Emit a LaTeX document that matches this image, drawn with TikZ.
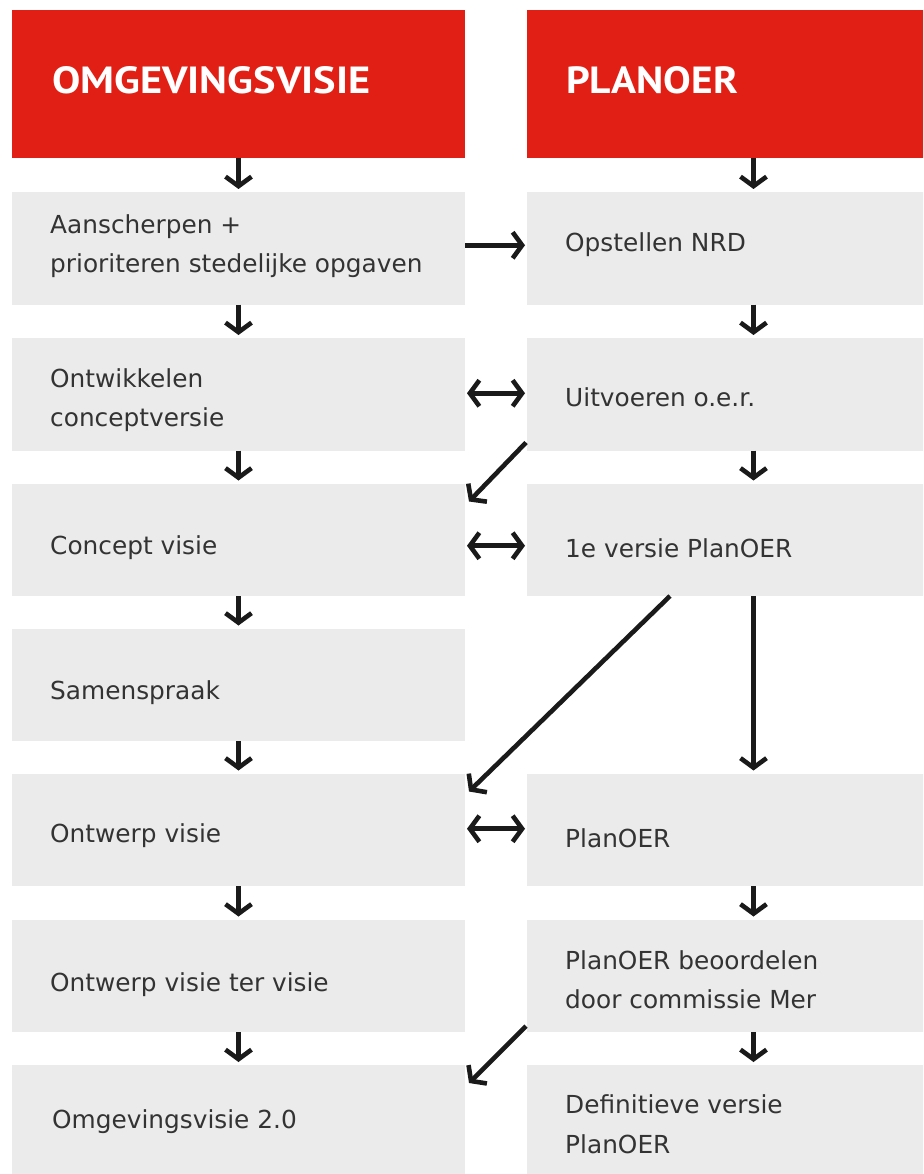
\documentclass[tikz,border=0pt]{standalone}
\usepackage{fontspec}
\setmainfont{DejaVu Sans}
\newfontfamily\headfont{PT Sans}
\usetikzlibrary{arrows.meta,calc}
\definecolor{hdred}{HTML}{E21F14}
\definecolor{boxgray}{HTML}{EBEBEB}
\definecolor{txtc}{HTML}{333333}
\definecolor{arrc}{HTML}{1A1A1A}
\begin{document}
\begin{tikzpicture}[x=1pt,y=-1pt,
  box/.style={fill=boxgray, draw=none, minimum width=453pt, minimum height=112.5pt, inner sep=0pt, outer sep=0pt, anchor=north west},
  hbox/.style={fill=hdred, draw=none, minimum width=453pt, minimum height=148pt, inner sep=0pt, outer sep=0pt, anchor=north west},
  lbl/.style={anchor=west, inner sep=0pt, align=left, text=txtc, font=\fontsize{24.8}{39.5}\selectfont},
  hlbl/.style={anchor=west, inner sep=0pt, text=white},
  arr/.style={draw=arrc, line width=4.6pt, -{Straight Barb[length=9.5pt,width=26pt]}, shorten >=3pt},
  darr/.style={draw=arrc, line width=4.6pt, {Straight Barb[length=9.5pt,width=26pt]}-{Straight Barb[length=9.5pt,width=26pt]}, shorten >=2pt, shorten <=2pt},
  harr/.style={draw=arrc, line width=4.6pt, -{Straight Barb[length=9.5pt,width=26pt]}, shorten >=2pt}
]
\useasboundingbox (0,0) rectangle (923,1174);
\clip (0,0) rectangle (923,1174);
\fill[white] (0,0) rectangle (923,1174);

% headers
\node[hbox] (hL) at (12,10) {};
\node[hbox] (hR) at (527,10) {};
\node[hlbl] (hLt) at (52,80) {\resizebox{318pt}{27pt}{\headfont\bfseries OMGEVINGSVISIE}};
\node[hlbl] (hRt) at (566,80) {\resizebox{172pt}{27pt}{\headfont\bfseries PLANOER}};

% left column
\node[box] (l1) at (12,192) {};
\node[box] (l2) at (12,338) {};
\node[box] (l3) at (12,483.5) {};
\node[box] (l4) at (12,628.5) {};
\node[box] (l5) at (12,773.5) {};
\node[box] (l6) at (12,919.5) {};
\node[box] (l7) at (12,1065) {};
% right column
\node[box] (r1) at (527,192) {};
\node[box] (r2) at (527,338) {};
\node[box] (r3) at (527,483.5) {};
\node[box] (r5) at (527,773.5) {};
\node[box] (r6) at (527,919.5) {};
\node[box] (r7) at (527,1065) {};

% labels
\node[lbl] (t1) at ([xshift=38pt,yshift=2pt]l1.west) {Aanscherpen +\\prioriteren stedelijke opgaven};
\node[lbl] (t2) at ([xshift=38pt,yshift=-6pt]l2.west) {Ontwikkelen\\conceptversie};
\node[lbl] (t3) at ([xshift=38pt,yshift=-8pt]l3.west) {Concept visie};
\node[lbl] (t4) at ([xshift=38pt,yshift=-8pt]l4.west) {Samenspraak};
\node[lbl] (t5) at ([xshift=38pt,yshift=-6pt]l5.west) {Ontwerp visie};
\node[lbl] (t6) at ([xshift=38pt,yshift=-9pt]l6.west) {Ontwerp visie ter visie};
\node[lbl] (t7) at ([xshift=40pt]l7.west) {Omgevingsvisie 2.0};
\node[lbl] (u1) at ([xshift=38pt,yshift=4pt]r1.west) {Opstellen NRD};
\node[lbl] (u2) at ([xshift=38pt,yshift=-3pt]r2.west) {Uitvoeren o.e.r.};
\node[lbl] (u3) at ([xshift=38pt,yshift=-8pt]r3.west) {1e versie PlanOER};
\node[lbl] (u5) at ([xshift=38pt,yshift=-8pt]r5.west) {PlanOER};
\node[lbl] (u6) at ([xshift=38pt,yshift=-4pt]r6.west) {PlanOER beoordelen\\door commissie Mer};
\node[lbl] (u7) at ([xshift=38pt,yshift=-3pt]r7.west) {Definitieve versie\\PlanOER};

% vertical arrows left
\draw[arr] (hL.south) -- (l1.north);
\draw[arr] (l1.south) -- (l2.north);
\draw[arr] (l2.south) -- (l3.north);
\draw[arr] (l3.south) -- (l4.north);
\draw[arr] (l4.south) -- (l5.north);
\draw[arr] (l5.south) -- (l6.north);
\draw[arr] (l6.south) -- (l7.north);
% vertical arrows right
\draw[arr] (hR.south) -- (r1.north);
\draw[arr] (r1.south) -- (r2.north);
\draw[arr] (r2.south) -- (r3.north);
\draw[arr] (r3.south) -- (r5.north);
\draw[arr] (r5.south) -- (r6.north);
\draw[arr] (r6.south) -- (r7.north);

% horizontal arrows
\draw[harr] ($(l1.east)+(0,-3)$) -- ($(r1.west)+(0,-3)$);
\draw[darr] ($(l2.east)+(0,-1)$) -- ($(r2.west)+(0,-1)$);
\draw[darr] ($(l3.east)+(0,6)$) -- ($(r3.west)+(0,6)$);
\draw[darr] ($(l5.east)+(0,-1)$) -- ($(r5.west)+(0,-1)$);

% diagonal arrows
\draw[arr, shorten >=0pt] ($(r2.south west)+(-1,-8)$) -- ($(l3.north east)+(4,18)$);
\draw[arr, shorten >=0pt] ($(r3.south west)+(143,0)$) -- ($(l5.north east)+(4,18)$);
\draw[arr, shorten >=0pt] ($(r6.south west)+(-1,-6)$) -- ($(l7.north east)+(4,18)$);
\end{tikzpicture}
\end{document}
